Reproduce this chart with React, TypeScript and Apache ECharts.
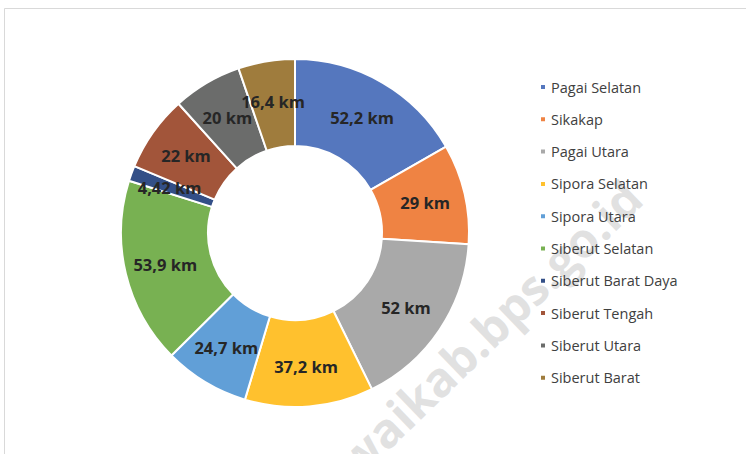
import React, { useEffect, useRef } from "react";
import * as echarts from "echarts";

const categories = [
  "Pagai Selatan",
  "Sikakap",
  "Pagai Utara",
  "Sipora Selatan",
  "Sipora Utara",
  "Siberut Selatan",
  "Siberut Barat Daya",
  "Siberut Tengah",
  "Siberut Utara",
  "Siberut Barat",
];
const values = [52.2, 29, 52, 37.2, 24.7, 53.9, 4.42, 22, 20, 16.4];
const colors = [
  "#5577BE",
  "#EF8343",
  "#A9A9A9",
  "#FFC12E",
  "#619FD7",
  "#78B152",
  "#334F87",
  "#A2553A",
  "#6B6C6B",
  "#9F7C3D",
];
const unit = "km";
const watermark = "https://mentawaikab.bps.go.id";

export default function App() {
  const ref = useRef<HTMLDivElement>(null);
  useEffect(() => {
    document.body.style.margin = "0";
    const chart = echarts.init(ref.current!, null, { renderer: "svg" });
    chart.setOption({
      animation: false,
      color: colors,
      graphic: [
        {
          type: "rect",
          z: -10,
          silent: true,
          shape: { x: 4.5, y: 8.5, width: 760, height: 460 },
          style: { fill: "#ffffff", stroke: "#d9d9d9", lineWidth: 1 },
        },
        {
          type: "text",
          z: -5,
          silent: true,
          x: 633,
          y: 189,
          rotation: (44 * Math.PI) / 180,
          style: {
            text: watermark,
            fill: "rgba(205,205,205,0.6)",
            font: "bold 48px 'Open Sans', sans-serif",
            textAlign: "right",
            textVerticalAlign: "middle",
          },
        },
      ],
      legend: {
        orient: "vertical",
        left: 534,
        top: 74,
        itemWidth: 6,
        itemHeight: 6,
        itemGap: 16.3,
        icon: "rect",
        textStyle: {
          fontFamily: "'Open Sans', sans-serif",
          fontSize: 14.5,
          color: "#404040",
          lineHeight: 16,
        },
        data: categories,
      },
      series: [
        {
          type: "pie",
          center: [295, 233],
          radius: [87, 174],
          startAngle: 90,
          clockwise: true,
          avoidLabelOverlap: false,
          itemStyle: { borderColor: "#ffffff", borderWidth: 2 },
          label: {
            show: true,
            position: "inside",
            fontFamily: "'Open Sans', sans-serif",
            fontWeight: "bold",
            fontSize: 16.5,
            color: "#262626",
            formatter: (p: any) => String(p.value).replace(".", ",") + " " + unit,
          },
          labelLayout: { hideOverlap: false },
          labelLine: { show: false },
          emphasis: { disabled: true },
          data: categories.map((name, i) => ({ name, value: values[i] })),
        },
      ],
    });
    return () => chart.dispose();
  }, []);
  return <div ref={ref} style={{ width: 746, height: 454 }} />;
}
